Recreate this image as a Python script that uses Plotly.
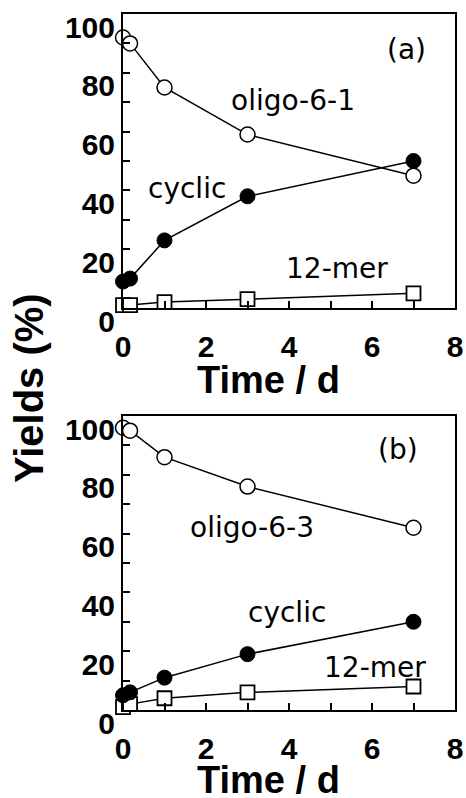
import plotly.graph_objects as go

# ---- data ----
time_days = [0, 0.17, 1, 3, 7]

# panel (a)
a_oligo = [92, 90, 75, 59, 45]
a_cyclic = [9, 10, 23, 38, 50]
a_12mer = [1, 1, 2, 3, 5]

# panel (b)
b_oligo = [96, 95, 86, 76, 62]
b_cyclic = [5, 6, 11, 19, 30]
b_12mer = [1, 2, 4, 6, 8]

x_ticks = [0, 2, 4, 6, 8]
y_ticks = [0, 20, 40, 60, 80, 100]

BLACK = "black"
tick_font = dict(family="Liberation Sans", size=30, color=BLACK, weight="bold")
ann_font = dict(family="DejaVu Sans", size=28, color=BLACK)
title_font = dict(family="Liberation Sans", size=38, color=BLACK, weight="bold")

fig = go.Figure()


def add_panel(xa, ya, oligo, cyclic, mer):
    line = dict(color=BLACK, width=1.5)
    fig.add_trace(go.Scatter(
        x=time_days, y=mer, mode="lines+markers", xaxis=xa, yaxis=ya,
        line=line, cliponaxis=False,
        marker=dict(symbol="square", size=14, color="white",
                    line=dict(color=BLACK, width=1.8)),
        showlegend=False))
    fig.add_trace(go.Scatter(
        x=time_days, y=cyclic, mode="lines+markers", xaxis=xa, yaxis=ya,
        line=line, cliponaxis=False,
        marker=dict(symbol="circle", size=15, color=BLACK,
                    line=dict(color=BLACK, width=1)),
        showlegend=False))
    fig.add_trace(go.Scatter(
        x=time_days, y=oligo, mode="lines+markers", xaxis=xa, yaxis=ya,
        line=line, cliponaxis=False,
        marker=dict(symbol="circle", size=15, color="white",
                    line=dict(color=BLACK, width=1.5)),
        showlegend=False))


add_panel("x", "y", a_oligo, a_cyclic, a_12mer)
add_panel("x2", "y2", b_oligo, b_cyclic, b_12mer)

xdom = [123 / 466, 455 / 466]
ydom_a = [1 - 308 / 798, 1 - 14 / 798]
ydom_b = [1 - 710 / 798, 1 - 416 / 798]

xcommon = dict(
    range=[0, 8], domain=xdom, tickvals=x_ticks,
    ticktext=[str(v) for v in x_ticks],
    ticks="inside", ticklen=7, tickwidth=2, tickcolor=BLACK,
    minor=dict(dtick=1, ticks="inside", ticklen=7, tickwidth=2, tickcolor=BLACK),
    showline=True, linecolor=BLACK, linewidth=2, mirror=True,
    showgrid=False, zeroline=False, tickfont=tick_font,
    ticklabelstandoff=11, automargin=False, ticklabeloverflow="allow",
)
ycommon = dict(
    range=[0, 100], tickvals=y_ticks,
    ticktext=[str(v) for v in y_ticks],
    ticks="inside", ticklen=7, tickwidth=2, tickcolor=BLACK,
    minor=dict(dtick=10, ticks="inside", ticklen=7, tickwidth=2, tickcolor=BLACK),
    showline=True, linecolor=BLACK, linewidth=2, mirror=True,
    showgrid=False, zeroline=False, tickfont=tick_font,
    ticklabelshift=13, ticklabelstandoff=0, automargin=False,
    ticklabeloverflow="allow",
)

fig.update_layout(
    width=466, height=798,
    margin=dict(l=0, r=0, t=0, b=0, autoexpand=False),
    paper_bgcolor="white", plot_bgcolor="white",
    xaxis=dict(xcommon, anchor="y"),
    yaxis=dict(ycommon, domain=ydom_a, anchor="x"),
    xaxis2=dict(xcommon, anchor="y2"),
    yaxis2=dict(ycommon, domain=ydom_b, anchor="x2"),
)

# in-plot labels
labels_a = [("(a)", 6.84, 88), ("oligo-6-1", 4.1, 70.5), ("cyclic", 1.55, 40.5), ("12-mer", 5.16, 13.6)]
labels_b = [("(b)", 6.63, 88.5), ("oligo-6-3", 3.11, 62), ("cyclic", 3.95, 33), ("12-mer", 6.07, 14.5)]
for txt, xx, yy in labels_a:
    fig.add_annotation(text=txt, x=xx, y=yy, xref="x", yref="y", showarrow=False,
                       font=ann_font, xanchor="center", yanchor="middle")
for txt, xx, yy in labels_b:
    fig.add_annotation(text=txt, x=xx, y=yy, xref="x2", yref="y2", showarrow=False,
                       font=ann_font, xanchor="center", yanchor="middle")

# axis titles
fig.add_annotation(text="Time / d", x=268 / 466, y=1 - 380 / 798, xref="paper", yref="paper",
                   showarrow=False, font=title_font, xanchor="center", yanchor="middle")
fig.add_annotation(text="Time / d", x=268 / 466, y=1 - 780 / 798, xref="paper", yref="paper",
                   showarrow=False, font=title_font, xanchor="center", yanchor="middle")
fig.add_annotation(text="Yields (%)", x=29 / 466, y=1 - 388 / 798, xref="paper", yref="paper",
                   showarrow=False,
                   font=dict(family="Liberation Sans", size=40, color=BLACK, weight="bold"),
                   textangle=-90, xanchor="center", yanchor="middle")

fig.write_html(
    "out.html",
    config={"displayModeBar": False},
    post_script="document.body.style.margin='0px';document.body.style.overflow='hidden';",
)
